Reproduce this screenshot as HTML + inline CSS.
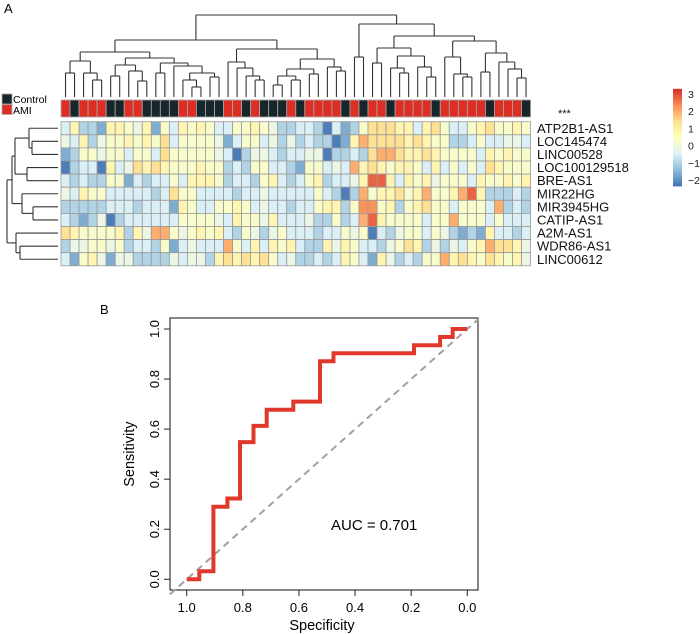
<!DOCTYPE html>
<html><head><meta charset="utf-8">
<style>
html,body{margin:0;padding:0;background:#fff;}
svg{display:block;font-family:"Liberation Sans",Arial,sans-serif;}
</style></head>
<body>
<svg id="fig" width="700" height="634" viewBox="0 0 700 634" xmlns="http://www.w3.org/2000/svg">
  <text x="4" y="13" font-size="13">A</text>
  <text x="100" y="314" font-size="13">B</text>
  <g id="heat"></g>
  <g id="roc"></g>
</svg>
<script>
// ===== Heatmap data =====
const B=-2.2,b=-1.6,l=-1,w=-0.5,g=-0.1,y=0.3,Y=0.8,o=1.4,O=2.0,R=2.8;
const geneNames=["ATP2B1-AS1","LOC145474","LINC00528","LOC100129518","BRE-AS1","MIR22HG","MIR3945HG","CATIP-AS1","A2M-AS1","WDR86-AS1","LINC00612"];
// 1 = AMI, 0 = Control
const sampleGroups=[1,0,1,1,1,0,0,1,1,0,0,0,0,1,1,0,0,0,1,1,0,1,0,0,0,1,0,1,1,1,1,0,1,0,1,1,0,1,1,1,1,0,1,1,1,1,1,0,1,1,1,0];
const row0=[w,Y,l,l,b,Y,Y,y,g,Y,b,y,w,Y,y,Y,y,w,w,y,y,Y,y,g,l,l,w,w,l,B,w,b,l,y,o,o,o,Y,Y,w,Y,o,y,w,w,y,Y,o,y,y,Y,y];
const row1=[g,w,Y,l,g,y,y,Y,y,Y,y,o,w,y,y,y,y,g,b,w,y,y,w,g,l,g,l,w,l,l,B,b,Y,O,o,o,o,o,Y,o,Y,y,y,l,l,w,y,w,w,g,g,w];
const row2=[b,l,y,y,g,y,y,w,y,y,w,o,y,y,y,y,y,g,w,B,l,g,g,w,l,w,w,g,g,B,l,l,w,l,o,O,O,o,Y,Y,o,Y,y,y,y,y,w,Y,y,Y,y,y];
const row3=[B,l,w,w,B,Y,w,g,o,Y,o,Y,y,y,y,Y,y,y,l,w,l,y,y,w,w,l,b,y,y,w,g,w,O,Y,o,Y,y,Y,Y,y,w,Y,w,y,w,y,w,o,Y,y,y,y];
const row4=[w,l,w,l,l,y,y,b,w,l,w,w,y,w,Y,Y,Y,y,l,w,w,l,y,Y,w,l,w,y,Y,l,w,w,g,Y,R,R,Y,w,Y,y,Y,g,y,y,y,w,Y,y,y,Y,y,Y];
const row5=[g,w,Y,y,y,w,w,w,w,w,l,w,o,y,y,w,w,w,w,l,w,w,g,w,w,w,w,w,y,w,l,B,l,O,y,Y,Y,o,y,Y,O,y,y,Y,O,R,Y,l,l,l,w,l];
const row6=[l,l,l,l,l,w,w,w,l,w,w,w,b,Y,y,w,w,y,y,Y,y,w,g,w,w,l,w,w,y,Y,Y,l,y,2.3,2.3,y,Y,l,y,Y,o,y,y,w,y,y,y,w,O,l,w,l];
const row7=[w,l,b,l,g,B,l,w,w,w,w,w,w,y,y,y,y,g,w,Y,y,y,g,Y,w,w,w,g,l,l,y,l,w,O,R,Y,y,y,y,y,w,y,y,O,y,y,y,w,y,w,w,w];
const row8=[o,Y,y,y,y,y,Y,l,Y,g,O,O,y,g,y,Y,y,Y,w,l,y,g,l,g,y,w,w,w,l,w,w,y,g,y,B,w,l,g,y,y,w,y,g,l,b,l,b,Y,w,w,l,w];
const row9=[l,g,g,y,y,g,y,l,w,w,l,y,b,w,g,w,w,w,O,y,w,Y,w,Y,y,Y,w,l,l,Y,g,Y,y,w,w,l,g,y,o,Y,l,g,l,g,w,y,Y,O,o,o,Y,g];
const row10=[w,b,y,Y,g,b,g,g,l,l,l,l,g,w,g,g,l,Y,o,Y,o,Y,o,y,w,g,l,l,w,l,w,Y,y,w,b,Y,g,l,w,l,y,y,O,Y,o,Y,y,o,Y,y,Y,g];
const heatRows=[row0,row1,row2,row3,row4,row5,row6,row7,row8,row9,row10];
const colorTicks=[3,2,1,0,-1,-2];
// column dendrogram: [left,right,mergeHeight], leaves = column index
const clA=[[0,1,73],[2,[3,4,80],73],61];
const clB=[[[5,6,76],[7,[8,9,81],71],65],[[10,11,73],[12,[[13,[14,15,87],80],[16,17,77],73],66],63],58];
const clL=[clA,clB,52];
const clC1=[18,[19,[20,[21,22,80],76],68],62];
const clC2a=[[[23,24,85],[25,26,80],76],[27,28,74],69];
const clC2=[clC2a,[29,[30,31,71],67],59];
const clC=[clC1,clC2,49];
const clLeft=[clL,clC,40];
const clRight=[[32,33,57],[[[34,35,63],[[36,[37,38,73],68],[39,[40,41,77],67],56],48],[[42,[43,[44,45,77],74],57],[[46,47,72],[48,[49,[50,51,78],69],62],53],41],36],24];
const colTree=[clLeft,clRight,15];
const rowTree=[[[[0,[1,2,32],29],[3,4,27],15],[5,[6,7,33],22],12],[8,[9,10,20],16],7];

const NS="http://www.w3.org/2000/svg";
function mk(tag,attrs,parent){const e=document.createElementNS(NS,tag);for(const k in attrs)e.setAttribute(k,attrs[k]);parent.appendChild(e);return e;}

const heat=document.getElementById('heat');
const hx0=61, cw=9.03, hy0=121.7, rh=13.1;
const xCol=i=>hx0+i*cw, yRow=r=>hy0+r*rh;
const vmin=-2.3,vmax=3.3;
const pal=["#4575B4","#91BFDB","#E0F3F8","#FFFFBF","#FEE090","#FC8D59","#D73027"];
function hex(c){return [parseInt(c.substr(1,2),16),parseInt(c.substr(3,2),16),parseInt(c.substr(5,2),16)];}
function colorOf(v){let t=(v-vmin)/(vmax-vmin);t=Math.max(0,Math.min(1,t));const p=t*(pal.length-1);const i=Math.min(pal.length-2,Math.floor(p));const f=p-i;const a=hex(pal[i]),c=hex(pal[i+1]);return `rgb(${Math.round(a[0]+(c[0]-a[0])*f)},${Math.round(a[1]+(c[1]-a[1])*f)},${Math.round(a[2]+(c[2]-a[2])*f)})`;}

const annoY=100, annoH=17;
sampleGroups.forEach((gv,i)=>{
  const r=mk('rect',{x:xCol(i),y:annoY,width:cw,height:annoH,fill:gv?"#dd2e26":"#17262b",stroke:"#a9a9a9","stroke-width":0.8},heat);
  
  
});
heatRows.forEach((row,r)=>{row.forEach((v,c)=>{
  const e=mk('rect',{x:xCol(c),y:yRow(r),width:cw,height:rh,fill:colorOf(v),stroke:"#9a9a9a","stroke-width":0.8},heat);
  
  
});});
geneNames.forEach((n,r)=>{
  const t=mk('text',{x:537,y:yRow(r)+rh/2+4.5,"font-size":13,fill:"#111"},heat);t.textContent=n;
  
  
});
const st=mk('text',{x:558,y:117,"font-size":11,fill:"#111"},heat);st.textContent="***";



const leafY=97;
function drawCol(node){
  if(typeof node==='number') return {x:xCol(node)+cw/2,y:leafY};
  const kids=node.slice(0,node.length-1).map(drawCol);const h=node[node.length-1];
  const xs=kids.map(k=>k.x);
  kids.forEach(k=>mk('line',{x1:k.x,y1:k.y,x2:k.x,y2:h,stroke:"#333","stroke-width":1.1},heat));
  mk('line',{x1:Math.min(...xs),y1:h,x2:Math.max(...xs),y2:h,stroke:"#333","stroke-width":1.1},heat);
  return {x:(Math.min(...xs)+Math.max(...xs))/2,y:h};
}
const cd=drawCol(colTree);
const leafX=58;
function drawRow(node){
  if(typeof node==='number') return {x:leafX,y:yRow(node)+rh/2};
  const kids=node.slice(0,node.length-1).map(drawRow);const h=node[node.length-1];
  const ys=kids.map(k=>k.y);
  kids.forEach(k=>mk('line',{x1:k.x,y1:k.y,x2:h,y2:k.y,stroke:"#333","stroke-width":1.1},heat));
  mk('line',{x1:h,y1:Math.min(...ys),x2:h,y2:Math.max(...ys),stroke:"#333","stroke-width":1.1},heat);
  return {x:h,y:(Math.min(...ys)+Math.max(...ys))/2};
}
drawRow(rowTree);

const lg=mk('g',{},heat);


mk('rect',{x:2,y:94,width:10,height:10,fill:"#17262b",stroke:"#a9a9a9","stroke-width":0.8},lg);
mk('rect',{x:2,y:104.5,width:10,height:10,fill:"#dd2e26",stroke:"#a9a9a9","stroke-width":0.8},lg);
let t1=mk('text',{x:13,y:103,"font-size":10.5},lg);t1.textContent="Control";
let t2=mk('text',{x:13,y:114,"font-size":10.5},lg);t2.textContent="AMI";

const cb=mk('g',{},heat);


const cbY=v=>94+(3-v)*17.2;
for(let v=vmax;v>vmin;v-=0.05){mk('rect',{x:673,y:cbY(v),width:9,height:17.2*0.05+0.4,fill:colorOf(v)},cb);}
colorTicks.forEach(v=>{const t=mk('text',{x:688,y:cbY(v)+4,"font-size":10.5,fill:"#222"},cb);t.textContent=v<0?"\u2212"+Math.abs(v):String(v);});

// ===== ROC data =====
const specificity=[1.0,0.955,0.955,0.905,0.905,0.855,0.855,0.81,0.81,0.762,0.762,0.715,0.715,0.62,0.62,0.525,0.525,0.477,0.477,0.19,0.19,0.097,0.097,0.052,0.052,0.0];
const sensitivity=[0,0,0.032,0.032,0.29,0.29,0.323,0.323,0.548,0.548,0.613,0.613,0.677,0.677,0.71,0.71,0.871,0.871,0.903,0.903,0.935,0.935,0.968,0.968,1.0,1.0];
const xTicks=[1.0,0.8,0.6,0.4,0.2,0.0];
const yTicks=[0.0,0.2,0.4,0.6,0.8,1.0];
const auc=0.701;

const roc=document.getElementById('roc');
const sxx=v=>186.7+(1-v)*(467.3-186.7);
const sy=v=>579.3-v*(579.3-329);
const box=mk('rect',{x:170,y:318,width:308,height:272,fill:"none",stroke:"#222","stroke-width":1.1},roc);


const dg=mk('line',{x1:sxx(1.06),y1:sy(-0.06),x2:sxx(-0.04),y2:sy(1.04),stroke:"#a0a0a0","stroke-width":2,"stroke-dasharray":"7,5"},roc);


const xa=mk('g',{},roc);


mk('line',{x1:sxx(1),y1:590,x2:sxx(0),y2:590,stroke:"#222","stroke-width":1},xa);
xTicks.forEach(v=>{mk('line',{x1:sxx(v),y1:590,x2:sxx(v),y2:596,stroke:"#222","stroke-width":1},xa);
  const t=mk('text',{x:sxx(v),y:612,"font-size":13,"text-anchor":"middle"},xa);t.textContent=v.toFixed(1);});
const xt=mk('text',{x:322,y:630,"font-size":14.5,"text-anchor":"middle"},roc);xt.textContent="Specificity";


const ya=mk('g',{},roc);


mk('line',{x1:170,y1:sy(0),x2:170,y2:sy(1),stroke:"#222","stroke-width":1},ya);
yTicks.forEach(v=>{mk('line',{x1:164,y1:sy(v),x2:170,y2:sy(v),stroke:"#222","stroke-width":1},ya);
  const t=mk('text',{x:0,y:0,"font-size":13,"text-anchor":"middle",transform:`translate(159,${sy(v)}) rotate(-90)`},ya);t.textContent=v.toFixed(1);});
const yt=mk('text',{x:0,y:0,"font-size":14.5,"text-anchor":"middle",transform:`translate(134,${sy(0.5)}) rotate(-90)`},roc);yt.textContent="Sensitivity";


const pts=specificity.map((s,i)=>sxx(s).toFixed(1)+","+sy(sensitivity[i]).toFixed(1)).join(" ");
const curve=mk('polyline',{points:pts,fill:"none",stroke:"#e0392b","stroke-width":4,"stroke-linejoin":"miter"},roc);


const at=mk('text',{x:331,y:530,"font-size":15},roc);at.textContent="AUC = "+auc.toFixed(3);


</script>
</body></html>
